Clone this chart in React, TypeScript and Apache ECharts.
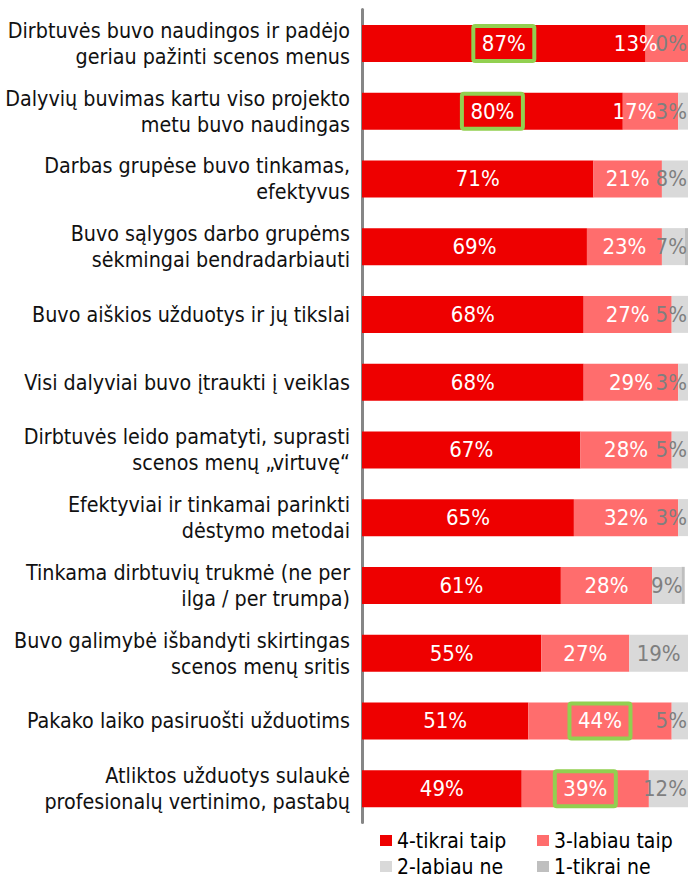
import React, { useEffect, useRef } from 'react';
import * as echarts from 'echarts';

const categories = [
  'Dirbtuvės buvo naudingos ir padėjo\ngeriau pažinti scenos menus',
  'Dalyvių buvimas kartu viso projekto\nmetu buvo naudingas',
  'Darbas grupėse buvo tinkamas,\nefektyvus',
  'Buvo sąlygos darbo grupėms\nsėkmingai bendradarbiauti',
  'Buvo aiškios užduotys ir jų tikslai',
  'Visi dalyviai buvo įtraukti į veiklas',
  'Dirbtuvės leido pamatyti, suprasti\nscenos menų „virtuvę“',
  'Efektyviai ir tinkamai parinkti\ndėstymo metodai',
  'Tinkama dirbtuvių trukmė (ne per\nilga / per trumpa)',
  'Buvo galimybė išbandyti skirtingas\nscenos menų sritis',
  'Pakako laiko pasiruošti užduotims',
  'Atliktos užduotys sulaukė\nprofesionalų vertinimo, pastabų',
];
const seriesNames = ['4-tikrai taip', '3-labiau taip', '2-labiau ne', '1-tikrai ne'];
const tikraiTaip = [87, 80, 71, 69, 68, 68, 67, 65, 61, 55, 51, 49];
const labiauTaip = [13, 17, 21, 23, 27, 29, 28, 32, 28, 27, 44, 39];
const labiauNe = [0, 3, 8, 7, 5, 3, 5, 3, 9, 19, 5, 12];
const tikraiNe = [0, 0, 0, 1, 0, 0, 0, 0, 1, 0, 0, 0];
// highlighted (green frame) segments: [seriesIndex, rowIndex]
const highlighted = [
  [0, 0],
  [0, 1],
  [1, 10],
  [1, 11],
];

export default function App() {
  const ref = useRef<HTMLDivElement>(null);
  useEffect(() => {
    if (!ref.current) return;
    const chart = echarts.init(ref.current, null, { renderer: 'svg' });
    const font = "'DejaVu Sans Condensed', 'DejaVu Sans', sans-serif";
    const valueSets = [tikraiTaip, labiauTaip, labiauNe, tikraiNe];
    const colors = ['#EE0000', '#FF6D6D', '#D9D9D9', '#BFBFBF'];
    const labelColors = ['#FFFFFF', '#FFFFFF', '#7F7F7F', '#7F7F7F'];
    const edge = 687;
    const nudge: Record<string, number> = { '1-0': -31, '1-1': -16 };

    const legendText = { color: '#000', fontSize: 21, fontFamily: font, lineHeight: 20 };
    const legendPos = [
      [380, 830],
      [537, 830],
      [380, 856],
      [537, 856],
    ];
    const option: any = {
      animation: false,
      grid: { left: 362, width: 326, top: 9.5, height: 813 },
      xAxis: { type: 'value', min: 0, max: 100, show: false },
      yAxis: {
        type: 'category',
        data: categories,
        inverse: true,
        offset: 2,
        axisLine: { show: true, lineStyle: { color: '#868686', width: 3 } },
        axisTick: { show: false },
        splitLine: { show: false },
        axisLabel: {
          margin: 10,
          color: '#111',
          fontSize: 21.3,
          fontFamily: font,
          lineHeight: 26,
          align: 'right',
        },
      },
      legend: seriesNames.map((n, i) => ({
        data: [n],
        left: legendPos[i][0],
        top: legendPos[i][1],
        padding: 0,
        itemWidth: 12,
        itemHeight: 11,
        icon: 'rect',
        textStyle: legendText,
        selectedMode: false,
      })),
      series: valueSets.map((vals, i) => ({
        name: seriesNames[i],
        type: 'bar',
        stack: 'total',
        barWidth: 37,
        data: vals,
        itemStyle: { color: colors[i] },
        label: {
          show: i < 3,
          position: 'inside',
          color: labelColors[i],
          fontSize: 22,
          fontFamily: font,
          formatter: (p: any) => p.value + '%',
        },
        labelLayout: (params: any) => {
          const r = params.labelRect;
          const b = params.rect;
          const key = params.seriesIndex + '-' + params.dataIndex;
          if (nudge[key] !== undefined) return { dx: nudge[key] };
          if (r && b) {
            const cx = b.x + b.width / 2;
            const right = cx + r.width / 2;
            if (right > edge) return { dx: edge - right };
          }
          return {};
        },
      })),
    };
    chart.setOption(option);

    const frames = highlighted.map(([s, row]) => {
      let start = 0;
      for (let k = 0; k < s; k++) start += valueSets[k][row];
      const mid = start + valueSets[s][row] / 2;
      const [px, py] = chart.convertToPixel({ gridIndex: 0 }, [mid, row]) as number[];
      const w = 61;
      const h = 35;
      return {
        type: 'rect',
        shape: { x: px - w / 2, y: py - h / 2, width: w, height: h, r: 2 },
        style: { fill: 'none', stroke: '#92D050', lineWidth: 4 },
        z: 100,
      };
    });
    chart.setOption({ graphic: frames });

    return () => chart.dispose();
  }, []);
  return (
    <div
      ref={ref}
      style={{ position: 'absolute', left: 0, top: 0, width: 688, height: 879 }}
    />
  );
}
